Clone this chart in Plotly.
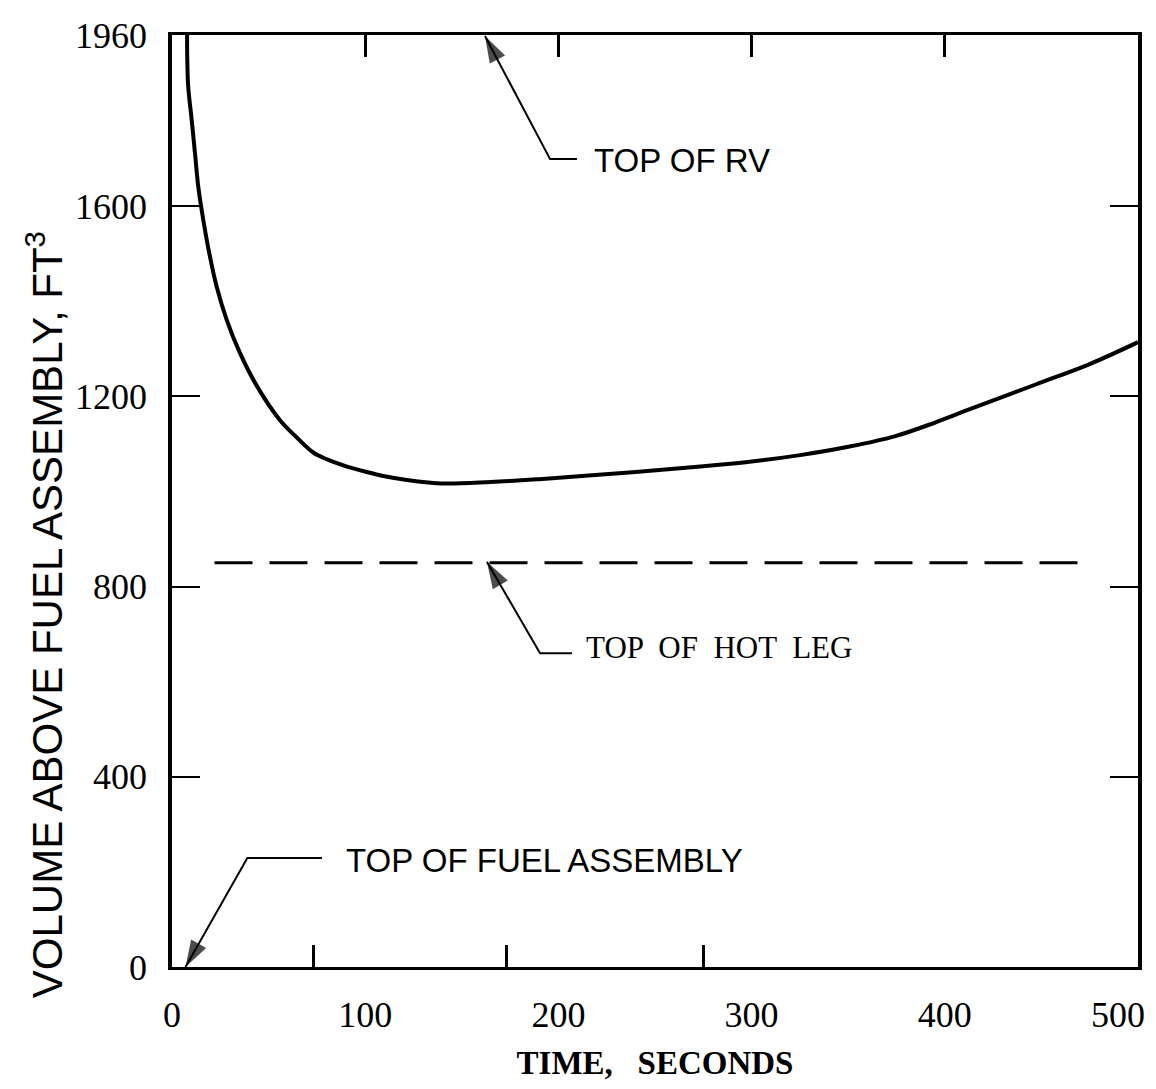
import plotly.graph_objects as go

# ---- data ----
time_s = [7.8, 7.9, 8.4, 10.2, 11.9, 13.6, 16.2, 19.3, 23.1, 28.3, 35.2, 44.2, 55.9,
          64.5, 73.1, 80, 88.7, 100.8, 110, 120, 139, 165, 190, 240, 275, 300, 326, 350,
          374, 395, 413, 447, 475, 500]
volume_ft3 = [1960, 1910, 1851, 1781, 1711, 1641, 1571, 1501, 1431, 1361, 1291, 1220,
              1150, 1114, 1082, 1068, 1055, 1041, 1032, 1025, 1017, 1020, 1026, 1041, 1053,
              1063, 1077, 1094, 1116, 1145, 1173, 1225, 1268, 1314]

hot_leg_time = [22, 477]
hot_leg_level = [850, 850]

x_tick_vals = [0, 100, 200, 300, 400]
x_tick_text = ["0", "100", "200", "300", "400"]
x_end_tick = 500            # last x label sits against the right frame edge
x_end_text = "500"
x_top_ticks = [100, 200, 300, 400]
x_bottom_ticks = [73, 173, 275]
y_tick_vals = [0, 400, 800, 1200, 1600, 1960]
y_tick_text = ["0", "400", "800", "1200", "1600", "1960"]

# callouts: label, tip (t, V), bend (t, V), leader end t, text start t, text V, font, size
callouts = [
    ("TOP OF RV", (162, 1958), (195.7, 1699), 209.6, 217.5, 1697, "Liberation Sans", 33),
    ("TOP  OF  HOT  LEG", (163, 852), (190.5, 660), 207, 213.5, 671, "Liberation Serif", 31),
    ("TOP OF FUEL ASSEMBLY", (7, 0), (39, 229), 77.6, 89.0, 225, "Liberation Sans", 33),
]

fig = go.Figure()

fig.add_trace(go.Scatter(x=time_s, y=volume_ft3, mode="lines",
                         line=dict(color="black", width=4, shape="spline", smoothing=1.0),
                         showlegend=False, hoverinfo="skip"))
fig.add_trace(go.Scatter(x=hot_leg_time, y=hot_leg_level, mode="lines",
                         line=dict(color="black", width=3, dash="38px,17px"),
                         showlegend=False, hoverinfo="skip"))
# invisible traces to carry the extra tick axes
fig.add_trace(go.Scatter(x=[0, 500], y=[0, 0], xaxis="x2", mode="lines",
                         line=dict(width=0), opacity=0, showlegend=False, hoverinfo="skip"))
fig.add_trace(go.Scatter(x=[0, 500], y=[0, 0], xaxis="x3", mode="lines",
                         line=dict(width=0), opacity=0, showlegend=False, hoverinfo="skip"))

tickfont = dict(family="Liberation Serif", size=36, color="black")

annotations = []
for label, tip, bend, lead_end, txt_t, txt_v, fam, fsize in callouts:
    # leader: horizontal stub -> bend -> arrow tip
    fig.add_trace(go.Scatter(
        x=[lead_end, bend[0], tip[0]], y=[bend[1], bend[1], tip[1]],
        mode="lines+markers",
        line=dict(color="black", width=2),
        marker=dict(symbol="arrow", size=[0, 0, 28], color="black", angleref="previous",
                    line=dict(width=0)),
        showlegend=False, hoverinfo="skip", cliponaxis=False))
    annotations.append(dict(x=txt_t, y=txt_v, xref="x", yref="y", text=label, showarrow=False,
                            xanchor="left", yanchor="middle",
                            font=dict(family=fam, size=fsize, color="black")))

# last x tick label, nudged inside the page edge as in the reference
annotations.append(dict(x=x_end_tick, y=0, xref="x", yref="y", text=x_end_text, showarrow=False,
                        xanchor="center", yanchor="middle", xshift=-20, yshift=-48,
                        font=tickfont))

annotations.append(dict(x=-0.132, y=0.378, xref="paper", yref="paper", textangle=-90,
                        text="VOLUME ABOVE FUEL ASSEMBLY, FT<sup>3</sup>", showarrow=False,
                        xanchor="center", yanchor="middle",
                        font=dict(family="Liberation Sans", size=42, color="black")))

fig.update_layout(
    width=1148, height=1073,
    margin=dict(l=164, r=18, t=27, b=114, autoexpand=False),
    paper_bgcolor="white", plot_bgcolor="white",
    showlegend=False,
    annotations=annotations,
    xaxis=dict(range=[0, 500], tickvals=x_tick_vals, ticktext=x_tick_text, ticks="",
               showline=True, linecolor="black", linewidth=2.5, mirror=True,
               showgrid=False, zeroline=False, tickfont=tickfont, ticklabelstandoff=14,
               ticklabeloverflow="allow", automargin=False,
               title=dict(text="TIME,   SECONDS", standoff=17,
                          font=dict(family="Liberation Serif", size=33, color="black",
                                    weight="bold"))),
    xaxis2=dict(range=[0, 500], overlaying="x", side="top", anchor="y", tickvals=x_top_ticks,
                ticks="inside", ticklen=22, tickwidth=2.5, tickcolor="black",
                showticklabels=False, showline=False, showgrid=False, zeroline=False,
                automargin=False),
    xaxis3=dict(range=[0, 500], overlaying="x", side="bottom", anchor="y", tickvals=x_bottom_ticks,
                ticks="inside", ticklen=22, tickwidth=2.5, tickcolor="black",
                showticklabels=False, showline=False, showgrid=False, zeroline=False,
                automargin=False),
    yaxis=dict(range=[0, 1960], tickvals=y_tick_vals, ticktext=y_tick_text,
               ticks="inside", ticklen=28, tickwidth=2, tickcolor="black",
               showline=True, linecolor="black", linewidth=3.5, mirror="ticks",
               showgrid=False, zeroline=False, tickfont=tickfont, ticklabelstandoff=14,
               ticklabeloverflow="allow", automargin=False),
)

fig.write_html("out.html")
